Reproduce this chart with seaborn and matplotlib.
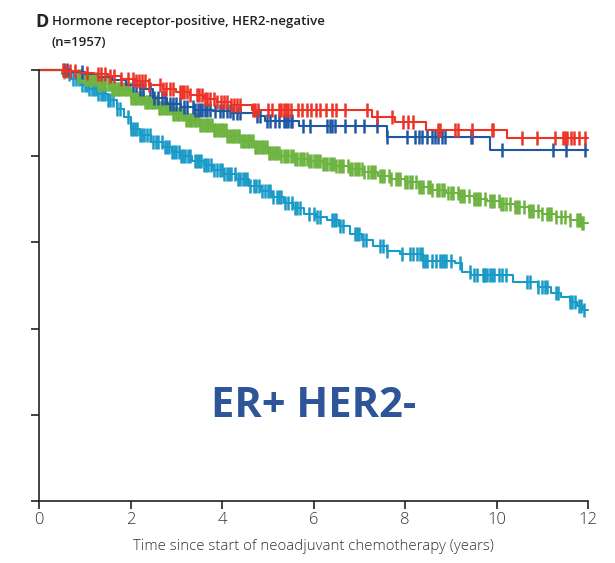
import numpy as np
import pandas as pd
import matplotlib
matplotlib.use("Agg")
import matplotlib.pyplot as plt
import seaborn as sns

# ---- Kaplan-Meier step data (years, survival proportion) ----
red_t = [0, 0.6, 0.9, 1.2, 1.5, 1.8, 2.1, 2.4, 2.7, 3.0, 3.3, 3.6, 3.9, 4.2, 4.65, 7.28, 7.78, 8.45, 10.23, 12.0]
red_s = [1.0, 0.997, 0.994, 0.991, 0.986, 0.980, 0.974, 0.966, 0.957, 0.950, 0.942, 0.933, 0.925, 0.919, 0.907, 0.891, 0.879, 0.861, 0.842, 0.842]
red_cens = [0.53, 0.6, 0.68, 0.79, 1.05, 1.29, 1.36, 1.45, 1.55, 1.65, 1.8, 1.95, 2.05, 2.12, 2.18, 2.25, 2.32, 2.4, 2.64, 2.7, 2.78, 2.86, 2.93,
            3.08, 3.13, 3.18, 3.24, 3.3, 3.45, 3.5, 3.56, 3.62, 3.67, 3.74, 3.82, 3.9, 3.98, 4.05, 4.12, 4.2, 4.27, 4.33, 4.39,
            4.68, 4.72, 4.79, 5.0, 5.1, 5.25, 5.3, 5.35, 5.4, 5.45, 5.5, 5.66, 5.75, 5.85, 5.95, 6.05, 6.15, 6.28, 6.4, 6.5, 6.69,
            7.17, 7.39, 7.72, 7.96, 8.07, 8.17, 8.72, 8.77, 9.09, 9.16, 9.46, 9.9, 9.93, 10.56, 10.89, 11.28,
            11.45, 11.5, 11.55, 11.63, 11.7, 11.8, 11.93]

blue_t = [0, 0.7, 1.0, 1.3, 1.6, 1.9, 2.2, 2.5, 2.8, 3.1, 3.4, 3.8, 4.2, 4.7, 4.95, 5.68, 7.6, 9.86, 12.0]
blue_s = [1.0, 0.996, 0.990, 0.984, 0.976, 0.966, 0.956, 0.935, 0.922, 0.914, 0.908, 0.904, 0.900, 0.893, 0.882, 0.870, 0.845, 0.814, 0.814]
blue_cens = [0.55, 0.62, 0.95, 2.05, 2.12, 2.2, 2.27, 2.43, 2.52, 2.6, 2.68, 2.76, 2.86, 2.93, 3.0, 3.08, 3.16, 3.23,
             3.37, 3.42, 3.47, 3.52, 3.57, 3.62, 3.67, 3.74, 3.85, 3.96, 4.02, 4.1, 4.18, 4.25, 4.32, 4.39,
             4.77, 4.83, 4.98, 5.05, 5.15, 5.25, 5.35, 5.4, 5.45, 5.5, 5.53, 5.77, 5.92, 6.3, 6.35, 6.4, 6.47,
             6.69, 6.9, 7.1, 7.38, 7.6, 8.04, 8.21, 8.3, 8.38, 8.48, 8.58, 8.65, 8.72, 8.8, 8.87, 9.45, 9.47,
             10.12, 11.24, 11.52, 11.93]

green_t = [0, 0.5, 0.8, 1.0, 1.3, 1.6, 2.0, 2.3, 2.6, 2.9, 3.2, 3.5, 3.8, 4.1, 4.4, 4.7, 5.0, 5.3, 5.6, 5.9, 6.2, 6.5, 6.8,
           7.1, 7.4, 7.7, 8.0, 8.3, 8.6, 8.9, 9.2, 9.5, 9.8, 10.1, 10.4, 10.7, 11.0, 11.3, 11.6, 11.85, 12.0]
green_s = [1.0, 0.995, 0.985, 0.978, 0.968, 0.955, 0.935, 0.925, 0.912, 0.899, 0.885, 0.873, 0.860, 0.848, 0.835, 0.822,
           0.808, 0.800, 0.794, 0.788, 0.782, 0.778, 0.771, 0.764, 0.754, 0.746, 0.740, 0.729, 0.722, 0.715, 0.708,
           0.701, 0.696, 0.688, 0.682, 0.673, 0.665, 0.659, 0.651, 0.645, 0.645]
green_cens = [0.55, 0.85, 0.9, 0.95, 1.0, 1.04, 1.08, 1.12, 1.15, 1.2, 1.24, 1.27, 1.3, 1.34, 1.38, 1.42, 1.45, 1.5, 1.53,
              1.57, 1.6, 1.64, 1.68, 1.72, 1.75, 1.8, 1.83, 1.87, 1.9, 1.94, 1.98, 2.02, 2.05, 2.09, 2.13, 2.17, 2.2, 2.24,
              2.28, 2.32, 2.35, 2.39, 2.43, 2.47, 2.5, 2.54, 2.58, 2.62, 2.65, 2.69, 2.73, 2.77, 2.8, 2.84, 2.88, 2.92,
              2.95, 2.99, 3.03, 3.07, 3.1, 3.14, 3.18, 3.22, 3.25, 3.29, 3.33, 3.37, 3.4, 3.44, 3.48, 3.52, 3.55, 3.59,
              3.63, 3.67, 3.7, 3.74, 3.78, 3.82, 3.85, 3.89, 3.93, 3.97, 4.0, 4.04, 4.08, 4.12, 4.15, 4.19, 4.23, 4.27,
              4.3, 4.34, 4.38, 4.42, 4.45, 4.49, 4.53, 4.57, 4.6, 4.64, 4.68, 4.72, 4.75, 4.79, 4.83, 4.87, 4.9, 4.94,
              4.98, 5.02, 5.05, 5.09, 5.13, 5.17, 5.2, 5.25, 5.3, 5.35, 5.4, 5.45, 5.5, 5.55, 5.6, 5.65, 5.7, 5.75, 5.8,
              5.85, 5.9, 5.95, 6.0, 6.05, 6.1, 6.15, 6.2, 6.25, 6.3, 6.35, 6.4, 6.45, 6.5, 6.55, 6.6, 6.65, 6.75, 6.8,
              6.85, 6.9, 6.95, 7.0, 7.05, 7.1, 7.2, 7.25, 7.3, 7.35, 7.45, 7.5, 7.55, 7.65, 7.7, 7.8, 7.85, 7.9, 8.0,
              8.05, 8.1, 8.15, 8.25, 8.3, 8.35, 8.4, 8.5, 8.55, 8.6, 8.7, 8.75, 8.8, 8.85, 8.95, 9.0, 9.05, 9.15, 9.2,
              9.25, 9.3, 9.4, 9.5, 9.55, 9.6, 9.65, 9.75, 9.85, 9.9, 9.95, 10.05, 10.1, 10.15, 10.2, 10.3, 10.4, 10.45,
              10.5, 10.6, 10.7, 10.75, 10.8, 10.9, 11.0, 11.1, 11.15, 11.2, 11.3, 11.42, 11.5, 11.6, 11.75, 11.8,
              11.83, 11.86, 11.9]

cyan_t = [0, 0.5, 0.7, 0.9, 1.1, 1.3, 1.5, 1.7, 1.85, 2.0, 2.2, 2.45, 2.7, 2.9, 3.1, 3.35, 3.6, 3.8, 4.05, 4.3, 4.6, 4.85,
          5.1, 5.35, 5.55, 5.8, 6.05, 6.3, 6.55, 6.8, 7.05, 7.3, 7.6, 7.9, 8.4, 9.1, 9.25, 9.45, 10.35, 10.9, 11.2, 11.4,
          11.6, 11.75, 11.9, 12.0]
cyan_s = [1.0, 0.99, 0.978, 0.966, 0.955, 0.945, 0.930, 0.910, 0.890, 0.862, 0.850, 0.834, 0.822, 0.810, 0.800, 0.790,
          0.780, 0.768, 0.758, 0.748, 0.730, 0.720, 0.705, 0.692, 0.680, 0.665, 0.660, 0.652, 0.638, 0.620, 0.605,
          0.592, 0.580, 0.572, 0.556, 0.552, 0.532, 0.524, 0.508, 0.497, 0.482, 0.473, 0.462, 0.452, 0.443, 0.443]
cyan_cens = [0.65, 0.75, 0.8, 0.88, 0.95, 1.0, 1.05, 1.1, 1.15, 1.2, 1.25, 1.3, 1.35, 1.4, 1.45, 1.5, 1.55, 1.62, 1.7,
             1.78, 1.95, 2.0, 2.05, 2.1, 2.15, 2.2, 2.25, 2.3, 2.35, 2.42, 2.5, 2.55, 2.6, 2.68, 2.75, 2.8, 2.85, 2.9,
             2.95, 3.0, 3.05, 3.1, 3.15, 3.2, 3.25, 3.3, 3.4, 3.45, 3.5, 3.55, 3.6, 3.65, 3.7, 3.75, 3.82, 3.9, 3.95,
             4.0, 4.05, 4.1, 4.15, 4.2, 4.28, 4.35, 4.4, 4.45, 4.5, 4.55, 4.62, 4.7, 4.75, 4.8, 4.88, 4.95, 5.0, 5.05,
             5.12, 5.2, 5.25, 5.3, 5.38, 5.45, 5.52, 5.6, 5.65, 5.7, 5.9, 6.0, 6.08, 6.15, 6.4, 6.45, 6.5, 6.58, 6.65,
             6.9, 6.95, 7.0, 7.08, 7.15, 7.45, 7.52, 7.6, 7.93, 8.1, 8.18, 8.26, 8.33, 8.37, 8.4, 8.44, 8.48, 8.6, 8.68,
             8.76, 8.8, 8.85, 8.9, 9.0, 9.2, 9.42, 9.5, 9.57, 9.7, 9.73, 9.75, 9.8, 9.85, 9.9, 9.95, 10.05, 10.12,
             10.2, 10.67, 10.73, 10.9, 11.0, 11.05, 11.1, 11.3, 11.35, 11.6, 11.65, 11.72, 11.8, 11.85, 11.92]

groups = [
    ("red", red_t, red_s, red_cens, "#EC3326"),
    ("blue", blue_t, blue_s, blue_cens, "#1E58A5"),
    ("green", green_t, green_s, green_cens, "#6DB33F"),
    ("cyan", cyan_t, cyan_s, cyan_cens, "#1A9BC7"),
]

xticks = [0, 2, 4, 6, 8, 10, 12]
yticks = [0, 0.2, 0.4, 0.6, 0.8, 1.0]

sns.set_theme(style="ticks")
plt.rcParams["font.family"] = ["Open Sans", "DejaVu Sans"]

fig = plt.figure(figsize=(6.15, 5.63), dpi=100)
ax = fig.add_axes([39 / 615, 62 / 563, 549 / 615, 431 / 563])

# draw from the back so red sits on top
for name, t, s, cens, col in groups[::-1]:
    df = pd.DataFrame({"time": t, "surv": s})
    sns.lineplot(data=df, x="time", y="surv", ax=ax, color=col, lw=1.5,
                 drawstyle="steps-post", estimator=None, sort=False, clip_on=False)
    ct = np.asarray(cens)
    idx = np.searchsorted(np.asarray(t), ct, side="right") - 1
    cs = np.asarray(s)[idx]
    ax.plot(ct, cs, ls="none", marker="|", ms=9.5, mew=1.8, color=col, clip_on=False)

ax.set_xlim(0, 12)
ax.set_ylim(0, 1)
ax.set_xticks(xticks)
ax.set_xticklabels([str(v) for v in xticks], fontsize=12, fontweight="light", color="#333333")
ax.set_yticks(yticks)
ax.set_yticklabels([])
ax.tick_params(axis="both", direction="out", length=6, width=1.2, color="#222222")
ax.tick_params(axis="x", pad=2)
for side in ("left", "bottom"):
    ax.spines[side].set_linewidth(1.2)
    ax.spines[side].set_color("#222222")
sns.despine(ax=ax)
ax.set_xlabel("Time since start of neoadjuvant chemotherapy (years)", fontsize=10.8, fontweight="light",
              color="#333333", labelpad=8)
ax.set_ylabel("")

fig.text(35 / 615, 1 - 22 / 563, "D", fontsize=13, fontweight="bold", color="#222222", va="center")
fig.text(52 / 615, 1 - 22 / 563, "Hormone receptor-positive, HER2-negative", fontsize=9.5,
         fontweight="semibold", color="#222222", va="center")
fig.text(52 / 615, 1 - 43 / 563, "(n=1957)", fontsize=9.5, fontweight="semibold", color="#222222", va="center")

ax.text(6.0, 0.22, "ER+ HER2-", fontsize=30, fontweight="bold", color="#2E5597",
        ha="center", va="center", family=["Open Sans", "DejaVu Sans"])

fig.savefig("out.png", dpi=100)
